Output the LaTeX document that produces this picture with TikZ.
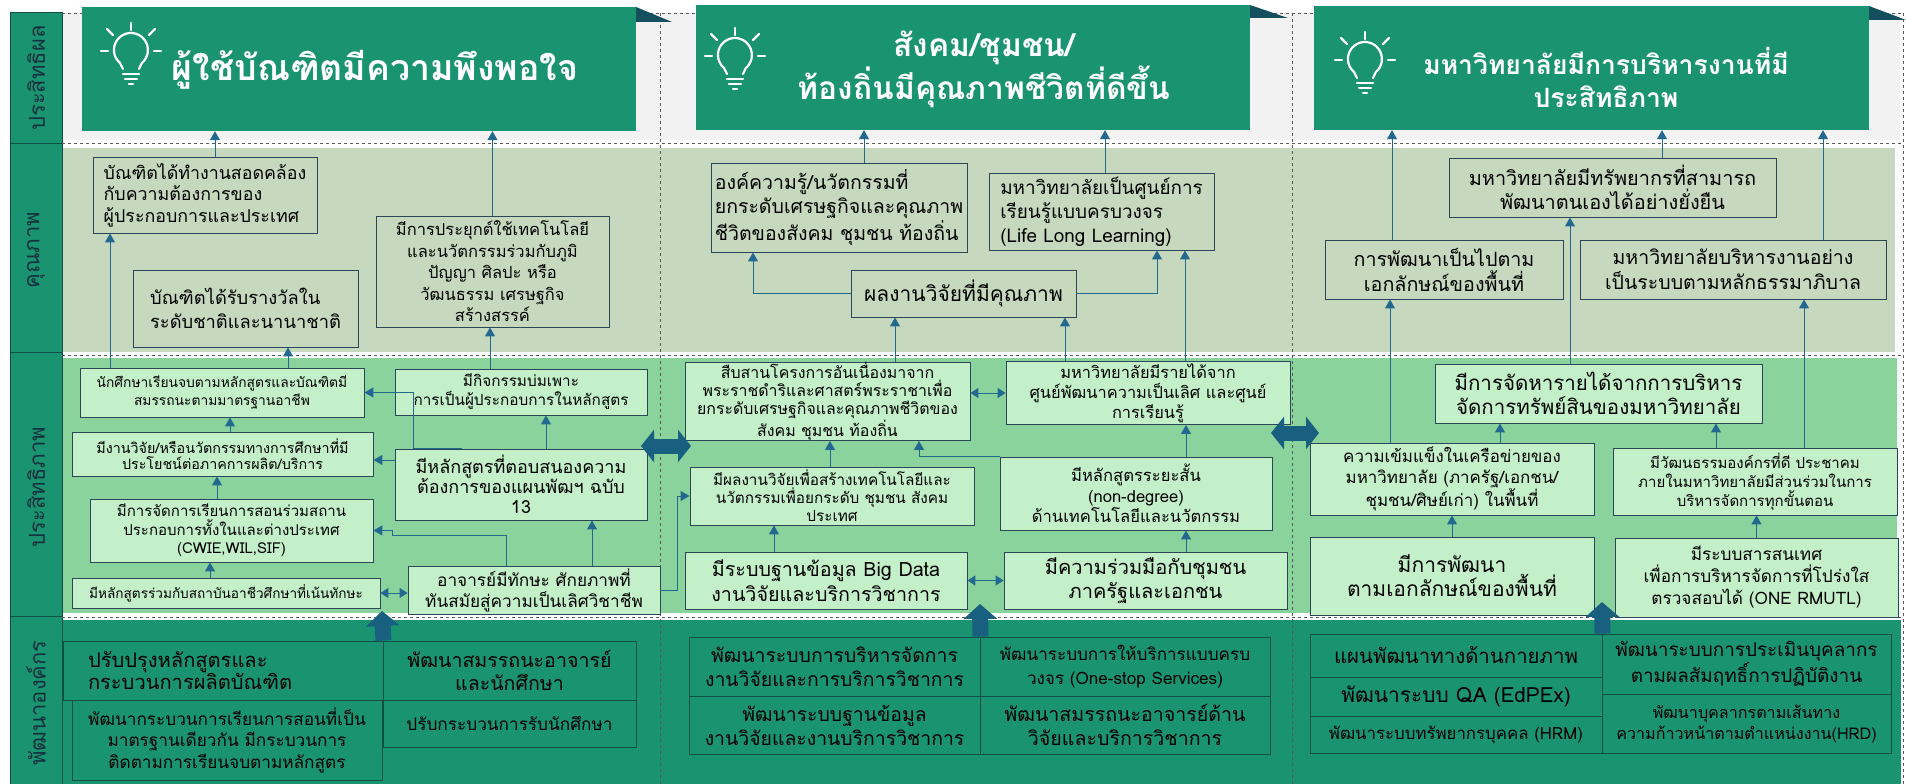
\documentclass[tikz,border=0pt]{standalone}
\usepackage{fontspec}
\setmainfont[Script=Thai]{Loma}
\usetikzlibrary{arrows.meta}
\newcommand\fsz[2]{\fontsize{#1pt}{#2pt}\selectfont}
\definecolor{titleg}{HTML}{1A9470}
\definecolor{flapc}{HTML}{134F5C}
\definecolor{qualg}{HTML}{C6D9BE}
\definecolor{effg}{HTML}{8AD39D}
\definecolor{effbox}{HTML}{C4F0C9}
\definecolor{boxline}{HTML}{2A4657}
\definecolor{cellline}{HTML}{0E5046}
\definecolor{linkc}{HTML}{22688F}
\definecolor{bigc}{HTML}{185F80}
\definecolor{lblc}{HTML}{15313D}
\definecolor{topbg}{HTML}{F2F2F2}

\begin{document}
\begin{tikzpicture}[x=1pt,y=-1pt,
	wh/.style 2 args={minimum width=#1pt,minimum height=#2pt},
	titlebox/.style={fill=titleg,inner sep=0pt},
	titletext/.style={text=white,align=center},
	qbox/.style={draw=boxline,fill=qualg,line width=0.9pt,inner sep=2pt,align=center,text=black},
	ebox/.style={draw=boxline,fill=effbox,line width=0.9pt,inner sep=2pt,align=center,text=black},
	tcell/.style={draw=cellline,fill=titleg,line width=0.9pt,inner sep=2pt,align=center,text=black},
	link/.style={draw=linkc,line width=1pt,-{Triangle[length=9pt,width=10pt]}},
	twolink/.style={draw=linkc,line width=1pt,{Triangle[length=8pt,width=10pt]}-{Triangle[length=8pt,width=10pt]}},
	bigup/.style={draw=bigc,line width=16pt,-{Triangle[length=15pt,width=33pt]}},
	bigtwo/.style={draw=bigc,line width=15pt,{Triangle[length=13pt,width=32pt]}-{Triangle[length=13pt,width=32pt]}},
	sep/.style={draw=black!65,dashed,line width=0.6pt},
	bulb/.style={draw=white,line width=2.2pt,line cap=round},
	lbl/.style={rotate=90,text=lblc,font=\fsz{22}{24}}]
	\useasboundingbox (0,0) rectangle (1906,784);
	\fill[topbg] (62,13) rectangle (1900,140);
	\fill[qualg] (62,148) rectangle (1895,352);
	\fill[effg] (62,358) rectangle (1897,613);
	\fill[titleg] (62,620) rectangle (1901,784);
	\fill[titleg] (10,13) rectangle (62,784);
	\draw[cellline,line width=1pt] (10,784) -- (10,13) -- (62,13) -- (62,784);
	\foreach \y in {143,352,616} \draw[cellline,line width=1pt] (10,\y) -- (62,\y);
	\foreach \y in {13,143,355,617} \draw[sep] (62,\y) -- (1903,\y);
	\foreach \x in {660,1292,1903} \draw[sep] (\x,13) -- (\x,784);
	\node[lbl] (lblres) at (36,78) {ประสิทธิผล};
	\node[lbl] (lblqual) at (36,250) {คุณภาพ};
	\node[lbl] (lbleff) at (36,487) {ประสิทธิภาพ};
	\node[lbl] (lbldev) at (36,703) {พัฒนาองค์กร};

	\node[titlebox,wh={554}{124}] (res1) at (359,69) {};
	\node[titlebox,wh={554}{125}] (res2) at (973,67.5) {};
	\node[titlebox,wh={555}{124}] (res3) at (1591.5,68) {};
	\fill[flapc] (636,7) -- (672,22) -- (636,22) -- cycle;
	\fill[flapc] (1250,5) -- (1288,18) -- (1250,18) -- cycle;
	\fill[flapc] (1869,6) -- (1906,20) -- (1869,20) -- cycle;
	\foreach \bx/\by in {131/50,735/55,1365/59} {
		\draw[bulb] (\bx-8,\by+19) -- (\bx-11,\by+13) arc[start angle=130,end angle=410,radius=17] -- (\bx+8,\by+19);
		\draw[bulb] (\bx,\by-27) -- (\bx,\by-20);
		\draw[bulb] (\bx-24,\by-21) -- (\bx-18,\by-15);
		\draw[bulb] (\bx+24,\by-21) -- (\bx+18,\by-15);
		\draw[bulb] (\bx-30,\by+1) -- (\bx-23,\by+1);
		\draw[bulb] (\bx+23,\by+1) -- (\bx+30,\by+1);
		\draw[bulb] (\bx-8,\by+24) -- (\bx+8,\by+24);
		\draw[bulb] (\bx-6,\by+29) -- (\bx+6,\by+29);
		\draw[bulb] (\bx-2,\by+34) -- (\bx+2,\by+34);
	}
	\node[titletext,font=\fsz{35.7}{40}\bfseries] (res1txt) at (375,70) {ผู้ใช้บัณฑิตมีความพึงพอใจ};
	\node[titletext,font=\fsz{31.7}{38}\bfseries] (res2txt) at (984,69) {สังคม/ชุมชน/\\ท้องถิ่นมีคุณภาพชีวิตที่ดีขึ้น};
	\node[titletext,font=\fsz{26.5}{33}\bfseries] (res3txt) at (1606,77) {มหาวิทยาลัยมีการบริหารงานที่มี\\ประสิทธิภาพ};

	\node[qbox,wh={224}{76},align=left,font=\fsz{17.8}{21.5}] (q1work) at (205,195) {บัณฑิตได้ทำงานสอดคล้อง\\กับความต้องการของ\\ผู้ประกอบการและประเทศ};
	\node[qbox,wh={225}{77},align=left,font=\fsz{18.3}{24}] (q1award) at (245.5,308.5) {บัณฑิตได้รับรางวัลใน\\ระดับชาติและนานาชาติ};
	\node[qbox,wh={233}{111},font=\fsz{16.5}{21.5}] (q1tech) at (492.5,271.5) {มีการประยุกต์ใช้เทคโนโลยี\\และนวัตกรรมร่วมกับภูมิ\\ปัญญา ศิลปะ หรือ\\วัฒนธรรม เศรษฐกิจ\\สร้างสรรค์};
	\node[qbox,wh={256}{89},align=left,font=\fsz{19.5}{24}] (q2know) at (839,207.5) {องค์ความรู้/นวัตกรรมที่\\ยกระดับเศรษฐกิจและคุณภาพ\\ชีวิตของสังคม ชุมชน ท้องถิ่น};
	\node[qbox,wh={225}{77},align=left,font=\fsz{18.9}{24}] (q2learn) at (1101.5,211.5) {มหาวิทยาลัยเป็นศูนย์การ\\เรียนรู้แบบครบวงจร\\(Life Long Learning)};
	\node[qbox,wh={225}{47},font=\fsz{21}{26}] (q2res) at (963.5,293.5) {ผลงานวิจัยที่มีคุณภาพ};
	\node[qbox,wh={327}{59},font=\fsz{19.9}{24}] (q3res) at (1612.5,187.5) {มหาวิทยาลัยมีทรัพยากรที่สามารถ\\พัฒนาตนเองได้อย่างยั่งยืน};
	\node[qbox,wh={238}{59},font=\fsz{19.7}{25}] (q3ident) at (1444,269.5) {การพัฒนาเป็นไปตาม\\เอกลักษณ์ของพื้นที่};
	\node[qbox,wh={306}{59},font=\fsz{19.5}{25}] (q3gov) at (1733,269.5) {มหาวิทยาลัยบริหารงานอย่าง\\เป็นระบบตามหลักธรรมาภิบาล};

	\node[ebox,wh={284}{49},font=\fsz{13.8}{18}] (e1grad) at (222,392.5) {นักศึกษาเรียนจบตามหลักสูตรและบัณฑิตมี\\สมรรถนะตามมาตรฐานอาชีพ};
	\node[ebox,wh={252}{46},font=\fsz{15.3}{19}] (e1incub) at (521,392) {มีกิจกรรมบ่มเพาะ\\การเป็นผู้ประกอบการในหลักสูตร};
	\node[ebox,wh={301}{44},font=\fsz{14.3}{15.5}] (e1innov) at (222.5,454) {มีงานวิจัย/หรือนวัตกรรมทางการศึกษาที่มี\\ประโยชน์ต่อภาคการผลิต/บริการ};
	\node[ebox,wh={252}{71},font=\fsz{18}{20}] (e1curr) at (521,484.5) {มีหลักสูตรที่ตอบสนองความ\\ต้องการของแผนพัฒฯ ฉบับ\\13};
	\node[ebox,wh={283}{63},font=\fsz{15}{18.5}] (e1cwie) at (231.5,530.5) {มีการจัดการเรียนการสอนร่วมสถาน\\ประกอบการทั้งในและต่างประเทศ\\(CWIE,WIL,SIF)};
	\node[ebox,wh={308}{30},font=\fsz{13.6}{16}] (e1voc) at (226,593) {มีหลักสูตรร่วมกับสถาบันอาชีวศึกษาที่เน้นทักษะ};
	\node[ebox,wh={252}{45},font=\fsz{17.2}{21}] (e1staff) at (534,590.5) {อาจารย์มีทักษะ ศักยภาพที่\\ทันสมัยสู่ความเป็นเลิศวิชาชีพ};
	\node[ebox,wh={285}{73},inner sep=0pt,font=\fsz{15.9}{18}] (e2royal) at (827.5,401.5) {สืบสานโครงการอันเนื่องมาจาก\\พระราชดำริและศาสตร์พระราชาเพื่อ\\ยกระดับเศรษฐกิจและคุณภาพชีวิตของ\\สังคม ชุมชน ท้องถิ่น};
	\node[ebox,wh={284}{58},font=\fsz{16.4}{20}] (e2income) at (1148,393) {มหาวิทยาลัยมีรายได้จาก\\ศูนย์พัฒนาความเป็นเลิศ และศูนย์\\การเรียนรู้};
	\node[ebox,wh={284}{58},font=\fsz{15.3}{18}] (e2tech) at (832,496) {มีผลงานวิจัยเพื่อสร้างเทคโนโลยีและ\\นวัตกรรมเพื่อยกระดับ ชุมชน สังคม\\ประเทศ};
	\node[ebox,wh={272}{73},font=\fsz{16.6}{20.5}] (e2short) at (1136,493.5) {มีหลักสูตรระยะสั้น\\(non-degree)\\ด้านเทคโนโลยีและนวัตกรรม};
	\node[ebox,wh={282}{57},font=\fsz{19.7}{25}] (e2data) at (826,580.5) {มีระบบฐานข้อมูล Big Data\\งานวิจัยและบริการวิชาการ};
	\node[ebox,wh={283}{57},font=\fsz{20}{24}] (e2comm) at (1145.5,580.5) {มีความร่วมมือกับชุมชน\\ภาครัฐและเอกชน};
	\node[ebox,wh={327}{59},font=\fsz{20.5}{24}] (e3asset) at (1598.5,393.5) {มีการจัดหารายได้จากการบริหาร\\จัดการทรัพย์สินของมหาวิทยาลัย};
	\node[ebox,wh={284}{72},font=\fsz{16.9}{21}] (e3network) at (1452,479) {ความเข้มแข็งในเครือข่ายของ\\มหาวิทยาลัย (ภาครัฐ/เอกชน/\\ชุมชน/ศิษย์เก่า) ในพื้นที่};
	\node[ebox,wh={284}{67},font=\fsz{15}{19}] (e3culture) at (1755,481.5) {มีวัฒนธรรมองค์กรที่ดี ประชาคม\\ภายในมหาวิทยาลัยมีส่วนร่วมในการ\\บริหารจัดการทุกขั้นตอน};
	\node[ebox,wh={284}{78},font=\fsz{21}{24}] (e3area) at (1452,576) {มีการพัฒนา\\ตามเอกลักษณ์ของพื้นที่};
	\node[ebox,wh={283}{79},font=\fsz{17.2}{22}] (e3info) at (1756.5,577.5) {มีระบบสารสนเทศ\\เพื่อการบริหารจัดการที่โปร่งใส\\ตรวจสอบได้ (ONE RMUTL)};

	\node[tcell,wh={320}{59},align=left,text width=270pt,font=\fsz{20.1}{21}] (b1curr) at (223,670.5) {ปรับปรุงหลักสูตรและ\\กระบวนการผลิตบัณฑิต};
	\node[tcell,wh={253}{59},font=\fsz{19.6}{23}] (b1staff) at (509.5,670.5) {พัฒนาสมรรถนะอาจารย์\\และนักศึกษา};
	\node[tcell,wh={310}{80},font=\fsz{17.2}{21.5}] (b1teach) at (227,740) {พัฒนากระบวนการเรียนการสอนที่เป็น\\มาตรฐานเดียวกัน มีกระบวนการ\\ติดตามการเรียนจบตามหลักสูตร};
	\node[tcell,wh={253}{47},font=\fsz{17.2}{20}] (b1admit) at (509.5,723.5) {ปรับกระบวนการรับนักศึกษา};
	\node[tcell,wh={291}{59},font=\fsz{19.4}{24}] (b2mgmt) at (834.5,666.5) {พัฒนาระบบการบริหารจัดการ\\งานวิจัยและการบริการวิชาการ};
	\node[tcell,wh={290}{59},font=\fsz{17.1}{24}] (b2onestop) at (1125,666.5) {พัฒนาระบบการให้บริการแบบครบ\\วงจร (One-stop Services)};
	\node[tcell,wh={291}{58},font=\fsz{19.4}{24}] (b2db) at (834.5,725) {พัฒนาระบบฐานข้อมูล\\งานวิจัยและงานบริการวิชาการ};
	\node[tcell,wh={290}{58},font=\fsz{19.6}{24}] (b2staff) at (1125,725) {พัฒนาสมรรถนะอาจารย์ด้าน\\วิจัยและบริการวิชาการ};
	\node[tcell,wh={292}{43},font=\fsz{20.4}{24}] (b3phys) at (1456,655.5) {แผนพัฒนาทางด้านกายภาพ};
	\node[tcell,wh={292}{39},font=\fsz{20.9}{24}] (b3qa) at (1456,696.5) {พัฒนาระบบ QA (EdPEx)};
	\node[tcell,wh={292}{37},font=\fsz{16.8}{20}] (b3hrm) at (1456,734.5) {พัฒนาระบบทรัพยากรบุคคล (HRM)};
	\node[tcell,wh={289}{60},font=\fsz{18.9}{24}] (b3eval) at (1746.5,664) {พัฒนาระบบการประเมินบุคลากร\\ตามผลสัมฤทธิ์การปฏิบัติงาน};
	\node[tcell,wh={289}{59},font=\fsz{16.1}{21}] (b3hrd) at (1746.5,723.5) {พัฒนาบุคลากรตามเส้นทาง\\ความก้าวหน้าตามตำแหน่งงาน(HRD)};

	\draw[link] (q1work.north -| 215,0) -- (res1.south -| 215,0);
	\draw[link] (q1tech.north) -- (q1tech.north |- res1.south);
	\draw[link] (e1grad.north -| 110,0) -- (q1work.south -| 110,0);
	\draw[link] (e1grad.north -| 288,0) -- (q1award.south -| 288,0);
	\draw[link] (e1incub.north -| 490,0) -- (q1tech.south -| 490,0);
	\draw[link] (e1innov.north -| 230,0) -- (e1grad.south -| 230,0);
	\draw[link] (e1cwie.north -| 217,0) -- (e1innov.south -| 217,0);
	\draw[link] (e1voc.north -| 210,0) -- (e1cwie.south -| 210,0);
	\draw[twolink] (e1voc.east) -- (e1voc.east -| e1staff.west);
	\draw[link] (e1curr.west |- 0,460) -- (e1innov.east |- 0,460);
	\draw[link] (e1curr.north -| 462,0) -| (413,392.5) -- (e1grad.east);
	\draw[link] (e1curr.north -| 546,0) -- (e1incub.south -| 546,0);
	\draw[link] (e1staff.north -| 592,0) -- (e1curr.south -| 592,0);
	\draw[link] (e1staff.north -| 506,0) |- (392,535) |- (e1cwie.east);
	\draw[link] (e1staff.east) -| (677,496) -- (e2tech.west);

	\draw[link] (q2know.north -| 864,0) -- (res2.south -| 864,0);
	\draw[link] (q2learn.north -| 1105,0) -- (res2.south -| 1105,0);
	\draw[link] (q2res.west) -| (q2know.south -| 753,0);
	\draw[link] (q2res.east) -| (q2learn.south -| 1157,0);
	\draw[link] (e2royal.north -| 895,0) -- (q2res.south -| 895,0);
	\draw[link] (e2income.north -| 1065,0) -- (q2res.south -| 1065,0);
	\draw[link] (e2income.north -| 1185,0) -- (q2learn.south -| 1185,0);
	\draw[twolink] (e2royal.east |- e2income.west) -- (e2income.west);
	\draw[link] (e2tech.north -| 830,0) -- (e2royal.south -| 830,0);
	\draw[link] (e2short.north -| 1186,0) -- (e2income.south -| 1186,0);
	\draw[link] (e2short.north west) -| (e2royal.south -| 919,0);
	\draw[link] (e2data.north -| 774,0) -- (e2tech.south -| 774,0);
	\draw[link] (e2comm.north -| 1186,0) -- (e2short.south -| 1186,0);
	\draw[twolink] (e2data.east) -- (e2comm.west);

	\draw[link] (q3ident.north -| 1392,0) -- (res3.south -| 1392,0);
	\draw[link] (q3res.north -| 1662,0) -- (res3.south -| 1662,0);
	\draw[link] (q3gov.north -| 1823,0) -- (res3.south -| 1823,0);
	\draw[link] (e3network.north -| 1390,0) -- (q3ident.south -| 1390,0);
	\draw[link] (e3asset.north -| 1570,0) -- (q3res.south -| 1570,0);
	\draw[link] (e3culture.north -| 1804,0) -- (q3gov.south -| 1804,0);
	\draw[link] (e3network.north -| 1500,0) -- (e3asset.south -| 1500,0);
	\draw[link] (e3culture.north -| 1716,0) -- (e3asset.south -| 1716,0);
	\draw[link] (e3area.north) -- (e3network.south);
	\draw[link] (e3info.north) -- (e3info.north |- e3culture.south);

	\coordinate (up1) at (382,611);
	\coordinate (up2) at (980,604);
	\coordinate (up3) at (1602,602);
	\draw[bigup] (b1curr.north east) -- (up1);
	\draw[bigup] (b2mgmt.north east) -- (up2);
	\draw[bigup] (b3phys.north east) -- (up3);
	\coordinate (dbl1a) at (641,446);
	\coordinate (dbl1b) at (691,446);
	\coordinate (dbl2a) at (1271,433);
	\coordinate (dbl2b) at (1319,433);
	\draw[bigtwo] (dbl1a) -- (dbl1b);
	\draw[bigtwo] (dbl2a) -- (dbl2b);
\end{tikzpicture}
\end{document}
